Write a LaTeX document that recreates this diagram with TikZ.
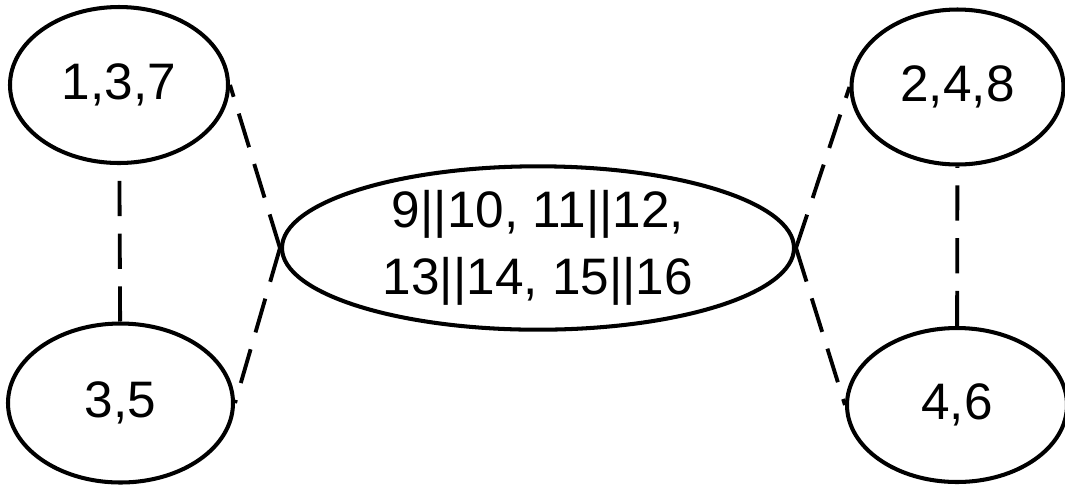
\documentclass[tikz,border=0pt]{standalone}
\usepackage{fontspec}
\setmainfont{Liberation Sans}
\usetikzlibrary{shapes.geometric}

\begin{document}
\begin{tikzpicture}[
  conjunto/.style={ellipse, draw, line width=1.15pt, inner sep=0pt,
    minimum height=1.56cm, font=\fontsize{14.6}{19.2}\selectfont},
  enlace/.style={line width=1.1pt, dash pattern=on 10pt off 5pt}
]
  % Marco
  \useasboundingbox (0,0) rectangle (10.65,-4.87);
  % Conjuntos de la izquierda
  \node[conjunto, minimum width=2.18cm] (c137) at (1.19,-0.85) {1,3,7};
  \node[conjunto, minimum width=2.25cm, minimum height=1.59cm]
    (c35) at (1.205,-4.03) {3,5};
  % Conjunto central
  \node[conjunto, minimum width=5.12cm, align=center]
    (centro) at (5.38,-2.48) {9||10, 11||12,\\13||14, 15||16};
  % Conjuntos de la derecha
  \node[conjunto, minimum width=2.12cm, minimum height=1.55cm]
    (c248) at (9.575,-0.87) {2,4,8};
  \node[conjunto, minimum width=2.2cm, minimum height=1.54cm]
    (c46) at (9.57,-4.05) {4,6};
  % Enlaces punteados
  \draw[enlace] (c35) -- (c137);
  \draw[enlace] (c46) -- (c248);
  \draw[enlace] (centro.west) -- (c137.east);
  \draw[enlace] (centro.west) -- (c35.east);
  \draw[enlace] (centro.east) -- (c248.west);
  \draw[enlace] (centro.east) -- (c46.west);
\end{tikzpicture}
\end{document}
